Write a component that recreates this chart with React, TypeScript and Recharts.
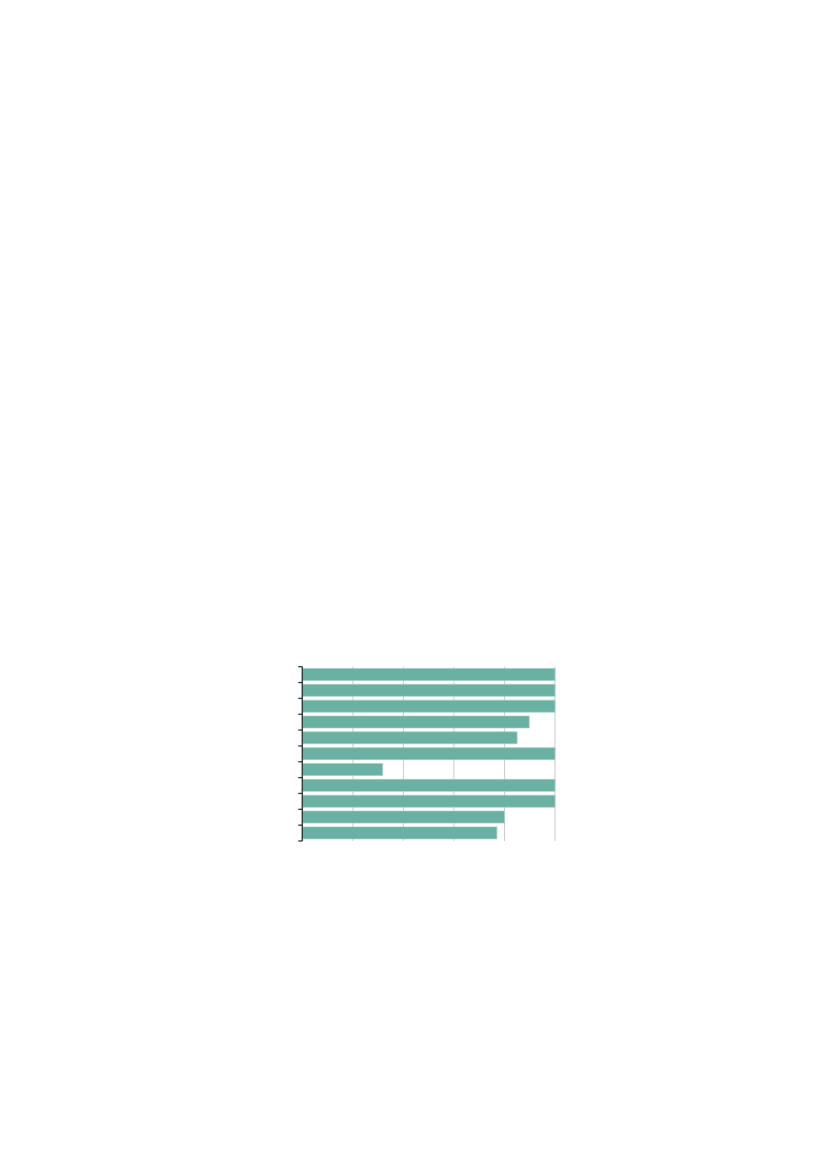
import { BarChart, Bar, XAxis, YAxis, CartesianGrid } from "recharts";

// categories have no visible labels in the reference
const categories = ["c1", "c2", "c3", "c4", "c5", "c6", "c7", "c8", "c9", "c10", "c11"];
const values = [5, 5, 5, 4.49, 4.25, 5, 1.59, 5, 5, 4.0, 3.85];
const xTicks = [0, 1, 2, 3, 4, 5];

const data = categories.map((name, i) => ({ name, value: values[i] }));

const TOP = 666.7;
const BOTTOM = 841;
const BAND = (BOTTOM - TOP) / categories.length;

// tick marks sit on the band boundaries, not the band centres
function BandTick(props: any) {
  const { x, y, index } = props;
  const last = index === categories.length - 1;
  return (
    <g>
      <line x1={x - 4} x2={x} y1={y - BAND / 2} y2={y - BAND / 2} stroke="#333" strokeWidth={1.3} />
      {last && (
        <line x1={x - 4} x2={x} y1={y + BAND / 2} y2={y + BAND / 2} stroke="#333" strokeWidth={1.3} />
      )}
    </g>
  );
}

export default function App() {
  return (
    <div style={{ position: "absolute", left: 0, top: 0, width: 827, height: 1169, background: "#fff" }}>
      <BarChart
        layout="vertical"
        width={827}
        height={1169}
        data={data}
        margin={{ top: TOP, right: 272, bottom: 1169 - BOTTOM, left: 297.3 }}
        barCategoryGap="11%"
      >
        <CartesianGrid horizontal={false} vertical stroke="#cccccc" strokeWidth={1} />
        <XAxis type="number" domain={[0, 5]} ticks={xTicks} hide />
        <YAxis
          type="category"
          dataKey="name"
          width={5}
          interval={0}
          tickLine={false}
          tickSize={0}
          tickMargin={0}
          tick={<BandTick />}
          axisLine={{ stroke: "#333", strokeWidth: 1.3 }}
        />
        <Bar
          dataKey="value"
          fill="#6ab0a3"
          stroke="#a3cfc6"
          strokeWidth={0.7}
          isAnimationActive={false}
        />
      </BarChart>
    </div>
  );
}
